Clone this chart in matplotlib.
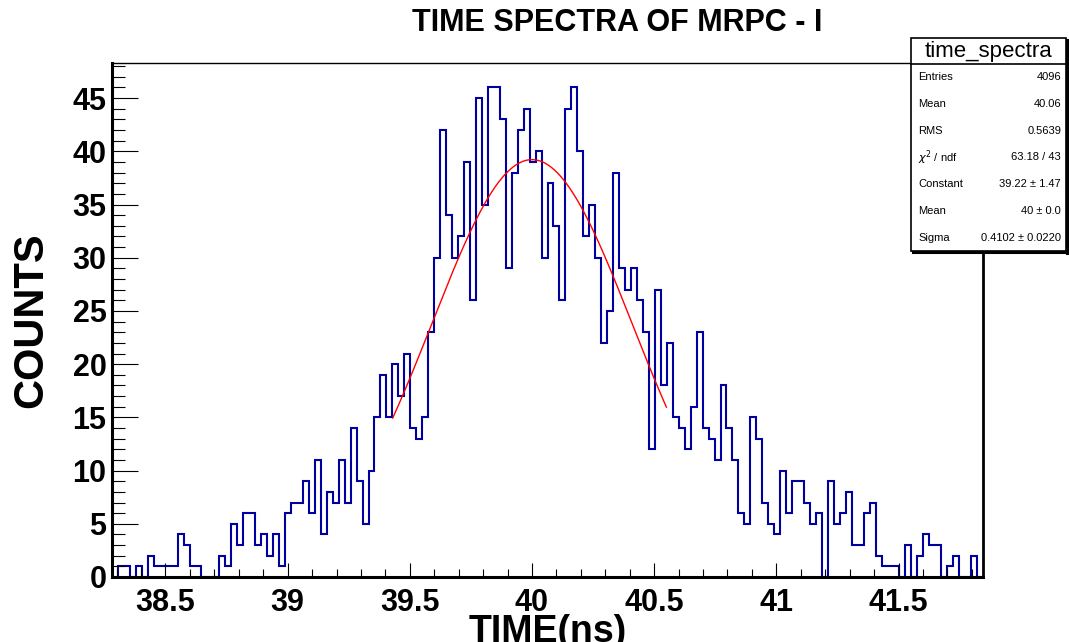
import numpy as np
import matplotlib
matplotlib.use("Agg")
import matplotlib.pyplot as plt
from matplotlib.patches import Rectangle
from matplotlib.ticker import MultipleLocator, FormatStrFormatter

# ---------------- data ----------------
bin_width = 100.0 / 4096.0          # ns per channel
first_channel = 1568                # first displayed channel
counts = [
    0, 1, 1, 0, 1, 0, 2, 1, 1, 1, 1, 4, 3, 1, 1,
    0, 0, 0, 2, 1, 5, 3, 6, 6, 3, 4, 2, 4, 1, 6,
    7, 7, 9, 6, 11, 4, 8, 7, 11, 7, 14, 9, 5, 10, 15,
    19, 15, 20, 17, 21, 14, 13, 15, 23, 30, 42, 34, 30, 32, 39,
    26, 45, 35, 46, 46, 43, 29, 38, 42, 44, 39, 40, 30, 37, 33,
    26, 44, 46, 40, 32, 35, 30, 22, 25, 38, 29, 27, 29, 26, 23,
    12, 27, 18, 22, 15, 14, 12, 16, 23, 14, 13, 11, 18, 14, 11,
    6, 5, 15, 13, 7, 5, 4, 10, 6, 9, 9, 7, 5, 6, 0,
    9, 5, 6, 8, 3, 3, 6, 7, 2, 1, 1, 1, 0, 3, 0, 2, 4, 3, 3, 0, 1, 2, 0, 0, 2, 0,
]
fit_constant = 39.22
fit_mean = 40.0
fit_sigma = 0.4102
fit_range = (39.43, 40.55)

title = "TIME SPECTRA OF MRPC - I"
xlabel = "TIME(ns)"
ylabel = "COUNTS"
stats_name = "time_spectra"
stats_labels = ["Entries", "Mean", "RMS", r"$\chi^{2}$ / ndf", "Constant", "Mean", "Sigma"]
stats_values = ["4096", "40.06", "0.5639", "63.18 / 43", "39.22 \u00b1 1.47", "40 \u00b1 0.0", "0.4102 \u00b1 0.0220"]

# ---------------- figure ----------------
W, H = 1069, 642
fig = plt.figure(figsize=(W / 100, H / 100), dpi=100)
fig.patch.set_facecolor("white")
FONT = "Liberation Sans"

L, R, T, B = 112, 983, 63, 577
ax = fig.add_axes([L / W, (H - B) / H, (R - L) / W, (B - T) / H])

edges = (first_channel + np.arange(len(counts) + 1)) * bin_width
ax.stairs(counts, edges, color="#0000a0", linewidth=1.5, baseline=0)

xf = np.linspace(fit_range[0], fit_range[1], 300)
yf = fit_constant * np.exp(-0.5 * ((xf - fit_mean) / fit_sigma) ** 2)
ax.plot(xf, yf, color="red", linewidth=1.0)

ax.set_xlim(edges[0], edges[-1])
ax.set_ylim(0, 1.05 * max(counts))

ax.xaxis.set_major_locator(MultipleLocator(0.5))
ax.xaxis.set_minor_locator(MultipleLocator(0.1))
ax.xaxis.set_major_formatter(FormatStrFormatter("%g"))
ax.yaxis.set_major_locator(MultipleLocator(5))
ax.yaxis.set_minor_locator(MultipleLocator(1))

ax.tick_params(axis="x", which="major", direction="in", length=10, width=0.8, pad=8)
ax.tick_params(axis="x", which="minor", direction="in", length=5.5, width=0.8)
ax.tick_params(axis="y", which="major", direction="in", length=19, width=0.8, pad=4)
ax.tick_params(axis="y", which="minor", direction="in", length=9.5, width=0.8)
ax.tick_params(top=False, right=False, which="both")

for lab in ax.get_xticklabels() + ax.get_yticklabels():
    lab.set_fontfamily(FONT)
    lab.set_fontweight("bold")
    lab.set_fontsize(22)

ax.spines["left"].set_linewidth(2.2)
ax.spines["bottom"].set_linewidth(2.2)
ax.spines["right"].set_linewidth(2.0)
ax.spines["top"].set_linewidth(1.0)

# axis titles
fig.text(548 / W, 1 - 632 / H, xlabel, ha="center", va="center",
         fontfamily=FONT, fontweight="bold", fontsize=27)
fig.text(31 / W, 1 - 320 / H, ylabel, ha="center", va="center", rotation=90,
         fontfamily=FONT, fontweight="bold", fontsize=30)

# title
fig.text(617 / W, 1 - 23 / H, title, ha="center", va="center",
         fontfamily=FONT, fontweight="bold", fontsize=22)

# ---------------- stats box (overlay in pixel coords) ----------------
ov = fig.add_axes([0, 0, 1, 1], zorder=5)
ov.set_xlim(0, W)
ov.set_ylim(H, 0)
ov.axis("off")
bx0, bx1, by0, by1, hy = 911, 1066, 38, 251, 64
ov.add_patch(Rectangle((bx0, by0), bx1 - bx0, by1 - by0, facecolor="white",
                       edgecolor="black", linewidth=1.2))
ov.plot([bx0, bx1], [hy, hy], color="black", linewidth=1.2)
ov.plot([bx1 + 0.5, bx1 + 0.5], [by0 + 2, by1 + 1.5], color="black", linewidth=2.2)
ov.plot([bx0 + 2, bx1 + 1.5], [by1 + 0.5, by1 + 0.5], color="black", linewidth=2.2)
ov.text((bx0 + bx1) / 2, (by0 + hy) / 2 + 1, stats_name, ha="center", va="center",
        fontfamily=FONT, fontsize=16)
row_h = (by1 - hy) / len(stats_labels)
for i, (lab, val) in enumerate(zip(stats_labels, stats_values)):
    yc = hy + row_h * (i + 0.5)
    ov.text(918, yc, lab, ha="left", va="center", fontfamily=FONT, fontsize=8)
    ov.text(1061, yc, val, ha="right", va="center", fontfamily=FONT, fontsize=8)

fig.savefig("out.png", dpi=100, facecolor="white")
